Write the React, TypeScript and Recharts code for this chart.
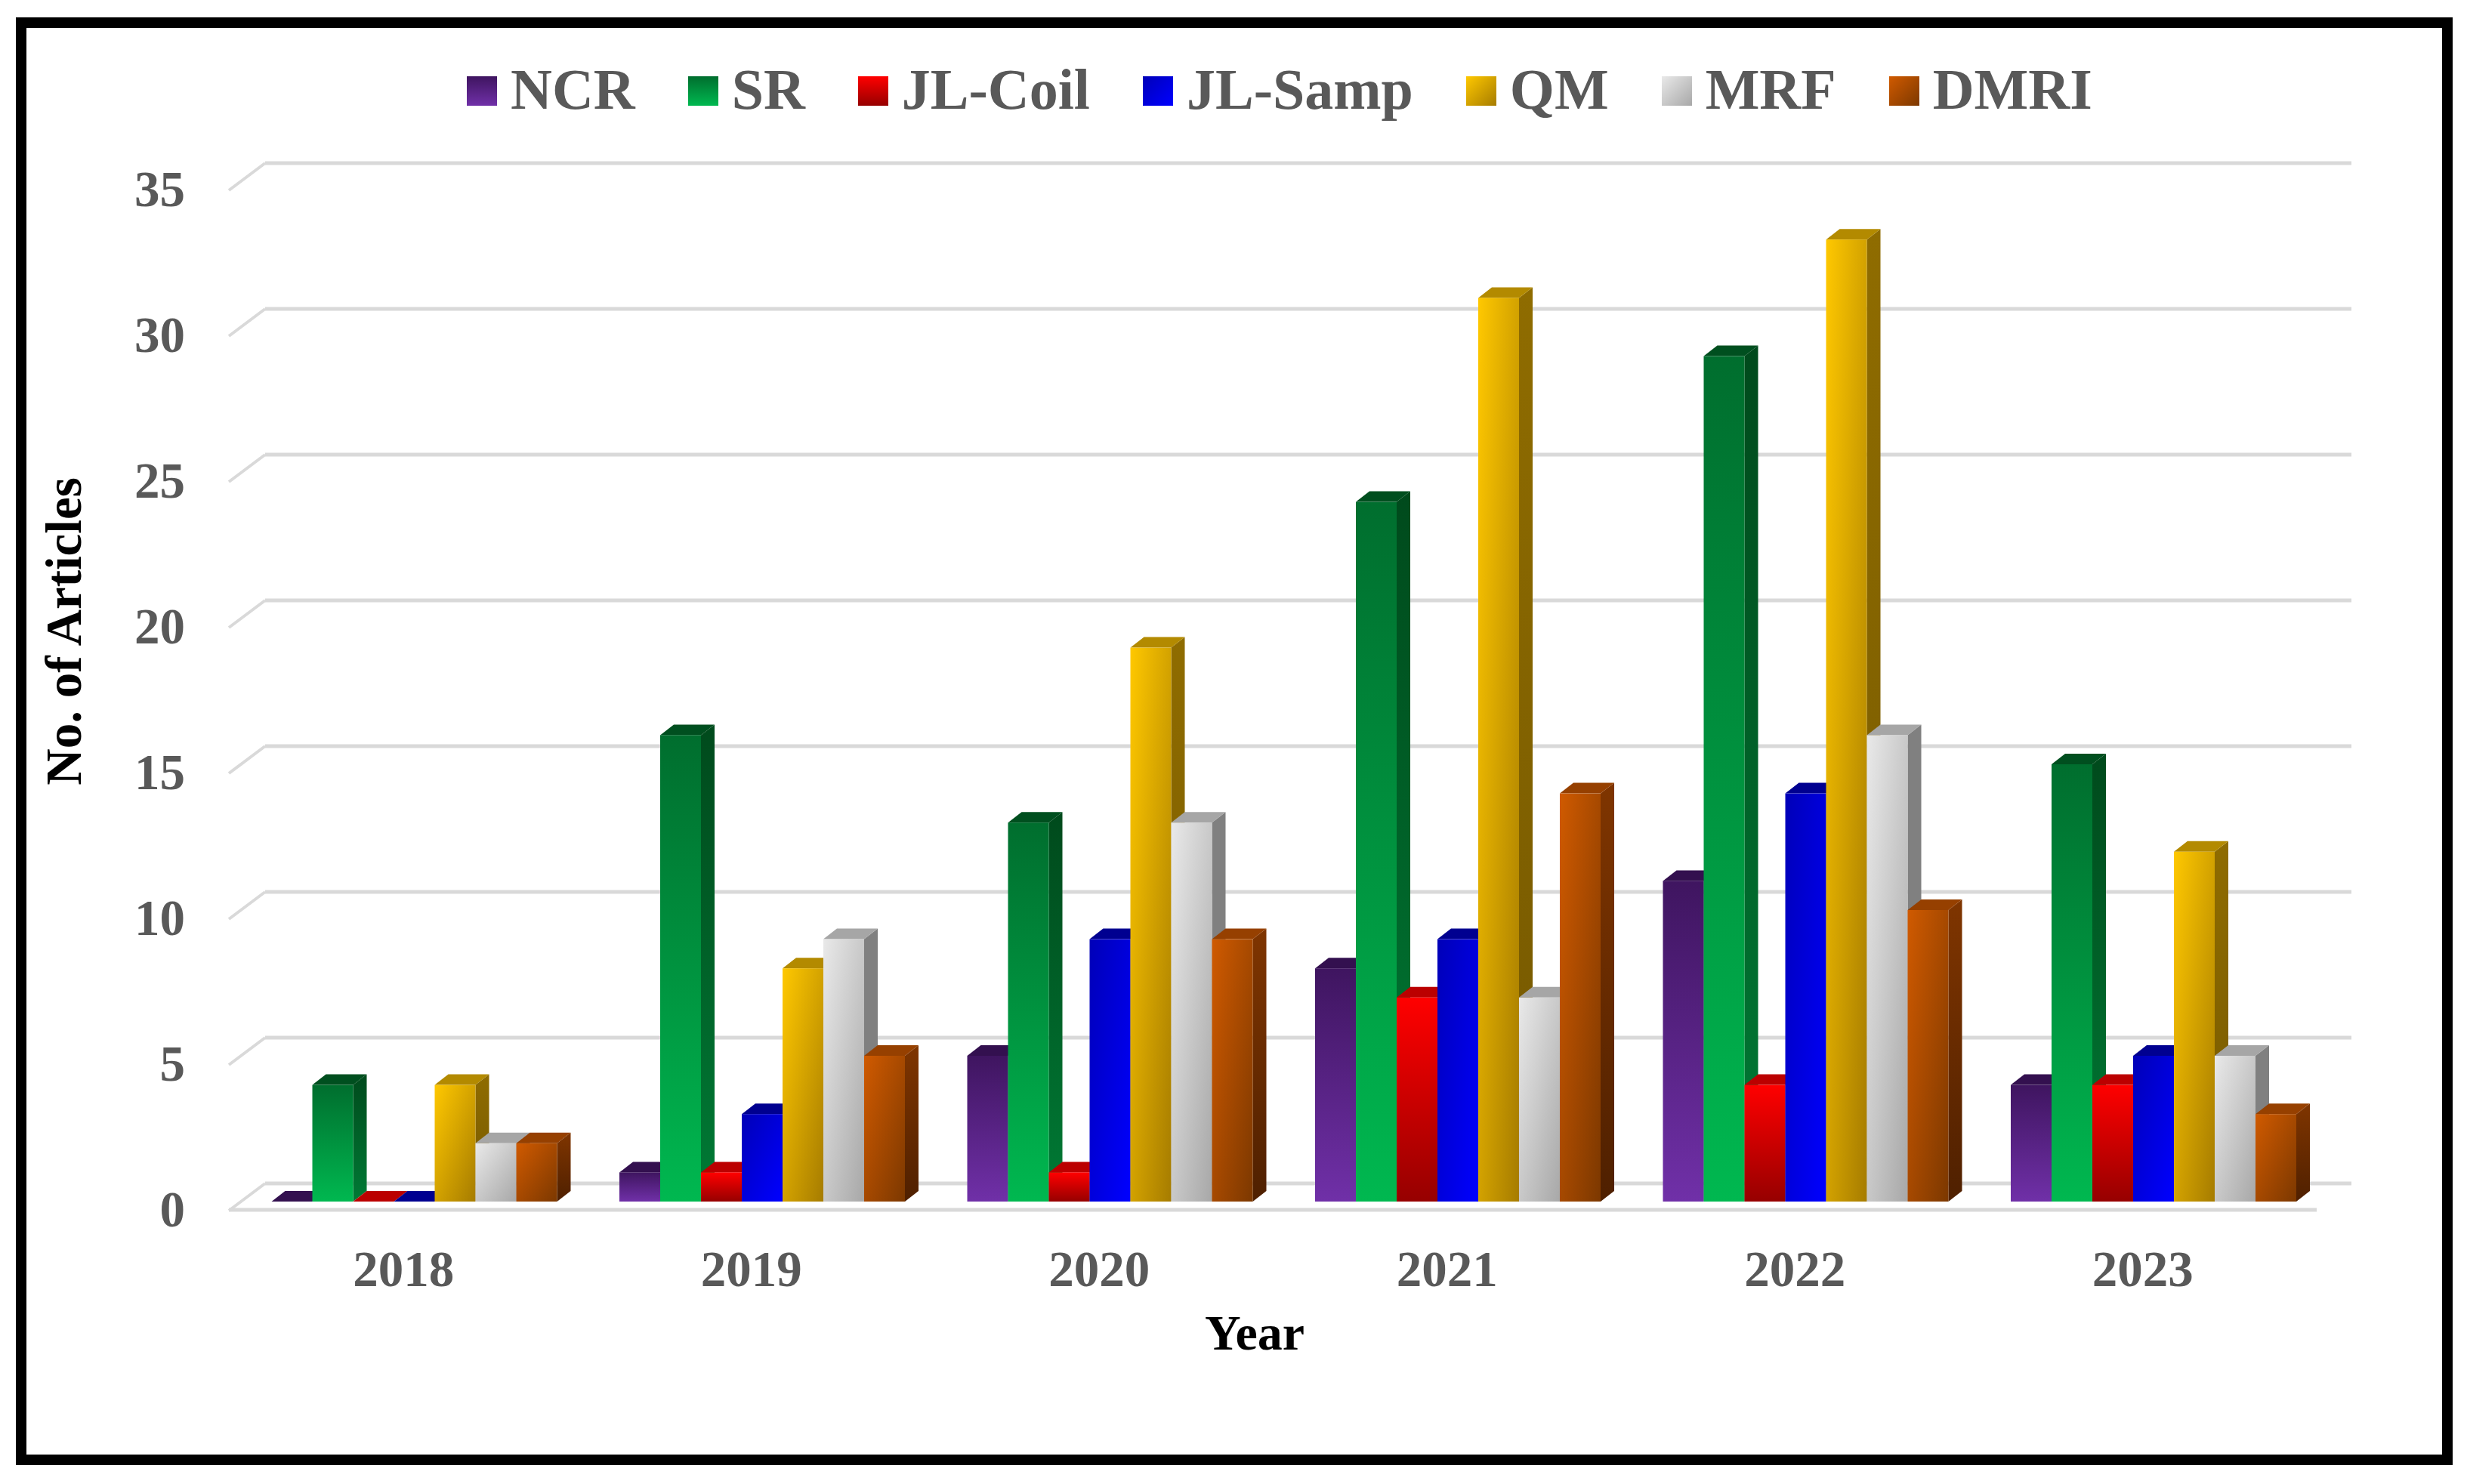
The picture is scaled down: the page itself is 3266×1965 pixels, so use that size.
import {
  Bar,
  BarChart,
  CartesianGrid,
  Label,
  Legend,
  ReferenceLine,
  XAxis,
  YAxis,
} from "recharts";

const years = ["2018", "2019", "2020", "2021", "2022", "2023"];
const seriesNames = ["NCR", "SR", "JL-Coil", "JL-Samp", "QM", "MRF", "DMRI"];

const ncr = [0, 1, 5, 8, 11, 4];
const sr = [4, 16, 13, 24, 29, 15];
const jlCoil = [0, 1, 1, 7, 4, 4];
const jlSamp = [0, 3, 9, 9, 14, 5];
const qm = [4, 8, 19, 31, 33, 12];
const mrf = [2, 9, 13, 7, 16, 5];
const dmri = [2, 5, 9, 14, 10, 3];
const seriesValues = [ncr, sr, jlCoil, jlSamp, qm, mrf, dmri];

const yTicks = [0, 5, 10, 15, 20, 25, 30, 35];

// start and end of the front face gradient, diagonal or top to bottom
const frontFrom = ["#3f1560", "#006e2e", "#ff0000", "#0000b8", "#ffc800", "#e9e9e9", "#d05a00"];
const frontTo = ["#7030a8", "#00b850", "#960000", "#0000ff", "#a67c00", "#a8a8a8", "#7c3800"];
const diagonal = [false, false, false, true, true, true, true];
const topFace = ["#33104f", "#004f1f", "#bb0000", "#000090", "#b38a00", "#a6a6a6", "#964000"];
const sideFrom = ["#2f0f4a", "#004a1c", "#a00000", "#000098", "#8f6c00", "#808080", "#7f3500"];
const sideTo = ["#4a1c70", "#007a35", "#6c0000", "#0000b0", "#755800", "#808080", "#4f2000"];

const chartData = years.map((year, i) => {
  const row: Record<string, string | number> = { year };
  seriesNames.forEach((name, s) => {
    row[name] = seriesValues[s][i];
  });
  return row;
});

const FONT = '"Liberation Serif", "Times New Roman", serif';
const GREY = "#595959";
const GRID = "#d9d9d9";

// 3D look: how far the bar depth and the back wall are pushed
const BAR_DX = 18;
const BAR_DY = 14;

function Cuboid(props: any) {
  const { x, y, width, height, seriesIndex: s } = props;
  const right = x + width;
  const bottom = y + height;
  return (
    <g>
      {height > 0 && (
        <polygon
          points={`${right},${y} ${right + BAR_DX},${y - BAR_DY} ${right + BAR_DX},${bottom - BAR_DY} ${right},${bottom}`}
          fill={`url(#side-${s})`}
        />
      )}
      <polygon
        points={`${x},${y} ${x + BAR_DX},${y - BAR_DY} ${right + BAR_DX},${y - BAR_DY} ${right},${y}`}
        fill={topFace[s]}
      />
      {height > 0 && <rect x={x} y={y} width={width} height={height} fill={`url(#front-${s})`} />}
    </g>
  );
}

function GridLine(props: any) {
  const { x1, x2, y1, index } = props;
  return (
    <g key={index} stroke={GRID} fill="none" strokeWidth={5}>
      <line x1={x1 + 32} x2={x2 + 31} y1={y1 - 24} y2={y1 - 24} />
      <line x1={x1 + 32} x2={x1 - 16} y1={y1 - 24} y2={y1 + 12} strokeWidth={4} />
    </g>
  );
}

function FloorLine(props: any) {
  const { x1, x2, y1, y2 } = props;
  const y = Math.min(y1, y2);
  const left = Math.min(x1, x2);
  const right = Math.max(x1, x2);
  return <line x1={left - 16} x2={right - 15} y1={y + 11} y2={y + 11} stroke={GRID} strokeWidth={5} />;
}

function YTick(props: any) {
  const { x, y, payload } = props;
  return (
    <text x={x - 74} y={y + 33} textAnchor="end" fontFamily={FONT} fontWeight={700} fontSize={67} fill={GREY}>
      {payload.value}
    </text>
  );
}

function XTick(props: any) {
  const { x, payload } = props;
  return (
    <text x={x - 15} y={1703} textAnchor="middle" fontFamily={FONT} fontWeight={700} fontSize={67} fill={GREY}>
      {payload.value}
    </text>
  );
}

function LegendRow(props: any) {
  const items = props.payload ?? [];
  return (
    <div style={{ display: "flex", alignItems: "center", gap: 70, fontFamily: FONT, fontWeight: 700, fontSize: 76, color: GREY, lineHeight: "76px", whiteSpace: "nowrap" }}>
      {items.map((item: any) => {
        const s = seriesNames.indexOf(item.value);
        return (
          <div key={item.value} style={{ display: "flex", alignItems: "center", gap: 18 }}>
            <div
              style={{
                width: 40,
                height: 39,
                background: `linear-gradient(${diagonal[s] ? "135deg" : "180deg"}, ${frontFrom[s]}, ${frontTo[s]})`,
              }}
            />
            <span style={{ position: "relative", top: -2 }}>{item.value}</span>
          </div>
        );
      })}
    </div>
  );
}

export default function App() {
  return (
    <div style={{ position: "absolute", left: 0, top: 0, width: 3266, height: 1965, background: "#fff", overflow: "hidden" }}>
      <div style={{ position: "absolute", left: 21, top: 23, width: 3226, height: 1917, border: "14px solid #000", boxSizing: "border-box" }} />
      <div style={{ position: "absolute", left: 0, top: 0 }}>
        <BarChart
          width={3266}
          height={1965}
          data={chartData}
          margin={{ top: 240, right: 184, bottom: 274, left: 219 }}
          barCategoryGap={40.5}
          barGap={0}
        >
          <defs>
            {seriesNames.map((_, s) => (
              <linearGradient key={s} id={`front-${s}`} x1="0" y1="0" x2={diagonal[s] ? "1" : "0"} y2="1">
                <stop offset="0%" stopColor={frontFrom[s]} />
                <stop offset="100%" stopColor={frontTo[s]} />
              </linearGradient>
            ))}
            {seriesNames.map((_, s) => (
              <linearGradient key={s} id={`side-${s}`} x1="0" y1="0" x2="0" y2="1">
                <stop offset="0%" stopColor={sideFrom[s]} />
                <stop offset="100%" stopColor={sideTo[s]} />
              </linearGradient>
            ))}
          </defs>
          <CartesianGrid vertical={false} horizontal={GridLine} />
          <XAxis dataKey="year" height={100} axisLine={false} tickLine={false} tick={XTick} interval={0}>
            <Label
              content={() => (
                <text x={1661} y={1787} textAnchor="middle" fontFamily={FONT} fontWeight={700} fontSize={66} fill="#000">
                  Year
                </text>
              )}
            />
          </XAxis>
          <YAxis width={100} domain={[0, 35]} ticks={yTicks} axisLine={false} tickLine={false} tickSize={0} tickMargin={0} tick={YTick} interval={0}>
            <Label
              content={() => (
                <text x={107} y={836} transform="rotate(-90 107 836)" textAnchor="middle" fontFamily={FONT} fontWeight={700} fontSize={67} fill="#000">
                  No. of Articles
                </text>
              )}
            />
          </YAxis>
          <ReferenceLine y={0} shape={FloorLine} />
          <Legend
            layout="horizontal"
            verticalAlign="middle"
            align="center"
            itemSorter={null}
            content={LegendRow}
            wrapperStyle={{ left: 618, top: 82, width: 2300, height: 76 }}
          />
          {seriesNames.map((name, s) => (
            <Bar
              key={name}
              dataKey={name}
              name={name}
              fill={frontFrom[s]}
              isAnimationActive={false}
              shape={(p: any) => <Cuboid {...p} seriesIndex={s} />}
            />
          ))}
        </BarChart>
      </div>
    </div>
  );
}
